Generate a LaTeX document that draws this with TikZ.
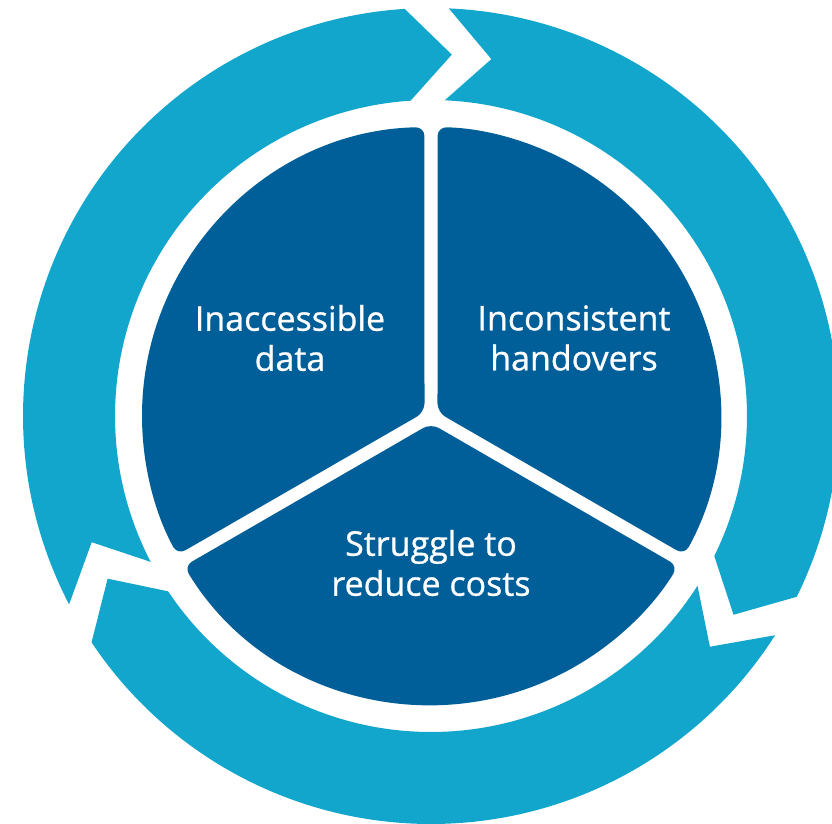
\documentclass[tikz,border=0pt]{standalone}
\usepackage{fontspec}
\newfontfamily\lblfont{Open Sans}[FakeBold=0.8]
\definecolor{ringblue}{RGB}{18,166,204}
\definecolor{pieblue}{RGB}{0,95,153}

\begin{document}
\begin{tikzpicture}[x=1pt,y=1pt,ring/.style ={fill=ringblue},pie/.style ={fill=pieblue,rounded corners=9pt},lbl/.style ={text=white,align=center,font=\lblfont\fontsize{34}{40}\selectfont}]

\useasboundingbox (-431,416) rectangle (401,-407);
\clip (-431,416) rectangle (401,-407);

%outer ring, three arrows going round clockwise
\foreach \t in {90,210,330}{
\fill[ring] (\t-2.5:408) arc[start angle=\t-2.5, end angle=\t-116.3, radius=408] -- (\t-123.3:362) -- (\t-116.3:316) arc[start angle=\t-116.3, end angle=\t-2.5, radius=316] -- (\t-9.6:362) -- cycle;
}

%inner pie, three sectors split by white gaps
\foreach \a in {90,210,330}{
\fill[pie] (\a+60:7.5) -- (\a+1.3:289) arc[start angle=\a+1.3, end angle=\a+118.7, radius=289] -- cycle;
}

%labels
\node[lbl] (inacc) at (-141,78) {Inaccessible\\data};
\node[lbl] (incons) at (143,78) {Inconsistent\\handovers};
\node[lbl] (strug) at (0,-147) {Struggle to\\reduce costs};
\end{tikzpicture}
\end{document}
